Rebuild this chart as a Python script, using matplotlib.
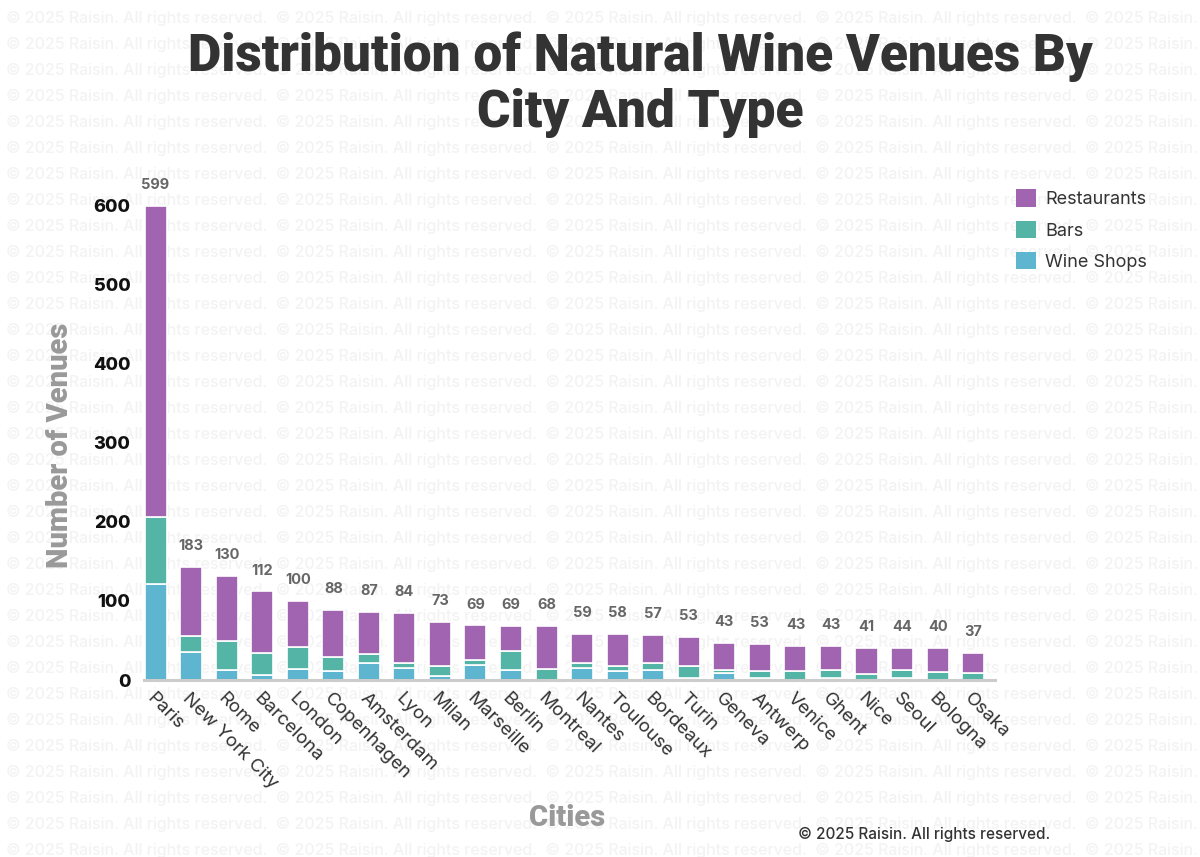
import matplotlib
matplotlib.use("Agg")
import matplotlib.pyplot as plt
from matplotlib.patches import Patch

cities = ['Paris', 'New York City', 'Rome', 'Barcelona', 'London', 'Copenhagen',
          'Amsterdam', 'Lyon', 'Milan', 'Marseille', 'Berlin', 'Montreal',
          'Nantes', 'Toulouse', 'Bordeaux', 'Turin', 'Geneva', 'Antwerp',
          'Venice', 'Ghent', 'Nice', 'Seoul', 'Bologna', 'Osaka']
wine_shops = [121, 35, 13, 6, 14, 11, 22, 15, 5, 19, 13, 0,
              15, 12, 13, 3, 9, 2, 0, 3, 0, 3, 0, 0]
bars = [85, 21, 36, 28, 28, 18, 11, 7, 13, 6, 24, 14,
        7, 6, 9, 15, 4, 10, 12, 10, 7, 10, 10, 9]
restaurants = [393, 87, 83, 78, 58, 59, 53, 63, 55, 44, 31, 54,
               36, 40, 35, 36, 34, 34, 31, 30, 34, 27, 30, 25]
totals = [599, 183, 130, 112, 100, 88, 87, 84, 73, 69, 69, 68,
          59, 58, 57, 53, 43, 53, 43, 43, 41, 44, 40, 37]
yticks = [0, 100, 200, 300, 400, 500, 600]

c_rest = '#a064b0'
c_bars = '#54b5a6'
c_shop = '#5db5cf'

body = ['Inter', 'DejaVu Sans']
heavy = ['Roboto', 'DejaVu Sans']

fig = plt.figure(figsize=(12, 8.57), dpi=100)

# faint watermark rows behind everything
mark = '\u00a9 2025 Raisin. All rights reserved.  '
for k in range(33):
    y = 1 - (18 + 26 * k) / 857
    fig.text(0.005, y, mark * 5, fontsize=11.5, color='#f3f3f3', family=body,
             fontweight='medium', va='center', ha='left', zorder=-5)

ax = fig.add_axes([0.1203, 0.2065, 0.709, 0.591])
ax.patch.set_alpha(0)

x = list(range(len(cities)))
w = 0.62
bottom2 = [a + b for a, b in zip(wine_shops, bars)]
ax.bar(x, wine_shops, w, color=c_shop, edgecolor='white', linewidth=1.2)
ax.bar(x, bars, w, bottom=wine_shops, color=c_bars, edgecolor='white', linewidth=1.2)
ax.bar(x, restaurants, w, bottom=bottom2, color=c_rest, edgecolor='white', linewidth=1.2)

tops = [a + b for a, b in zip(bottom2, restaurants)]
for xi, t, lab in zip(x, tops, totals):
    ax.annotate(str(lab), (xi, t), xytext=(0, 10), textcoords='offset points',
                ha='center', va='bottom', fontsize=10.5, fontweight='bold',
                color='#666666', family=body)

ax.set_xlim(-0.315, 23.62)
ax.set_ylim(0, 640)
ax.set_yticks(yticks)
ax.set_yticklabels([str(v) for v in yticks], fontsize=13, fontweight='heavy',
                   color='#111111', family=body)
ax.set_xticks(x)
ax.set_xticklabels(cities, rotation=-45, ha='left', va='top',
                   rotation_mode='anchor', fontsize=13.5, color='#333333',
                   family=body)
ax.tick_params(axis='both', length=0)
ax.tick_params(axis='y', pad=10)
ax.tick_params(axis='x', pad=7)

for s in ['top', 'right', 'left']:
    ax.spines[s].set_visible(False)
ax.spines['bottom'].set_color('#cccccc')
ax.spines['bottom'].set_linewidth(2.2)

fig.text(60 / 1200, 1 - 445 / 857, 'Number of Venues', rotation=90,
         ha='center', va='center', fontsize=21, fontweight='heavy',
         color='#999999', family=heavy)
fig.text(567 / 1200, 1 - 818 / 857, 'Cities', ha='center', va='center',
         fontsize=21, fontweight='heavy', color='#999999', family=heavy)

fig.text(640 / 1200, 1 - 85 / 857,
         'Distribution of Natural Wine Venues By\nCity And Type',
         ha='center', va='center', fontsize=37, fontweight='heavy',
         color='#333333', family=heavy, linespacing=1.15)

handles = [Patch(facecolor=c_rest, label='Restaurants'),
           Patch(facecolor=c_bars, label='Bars'),
           Patch(facecolor=c_shop, label='Wine Shops')]
fig.legend(handles=handles, loc='upper left',
           bbox_to_anchor=(1000 / 1200, 1 - 173 / 857), frameon=False,
           prop={'family': body, 'size': 13}, labelcolor='#333333',
           handlelength=1.1, handleheight=1.1, handletextpad=0.5,
           labelspacing=0.7)

fig.text(1050 / 1200, 1 - 834 / 857, '\u00a9 2025 Raisin. All rights reserved.',
         ha='right', va='center', fontsize=11, fontweight='medium',
         color='#333333', family=body)

fig.savefig('out.png', dpi=100)
